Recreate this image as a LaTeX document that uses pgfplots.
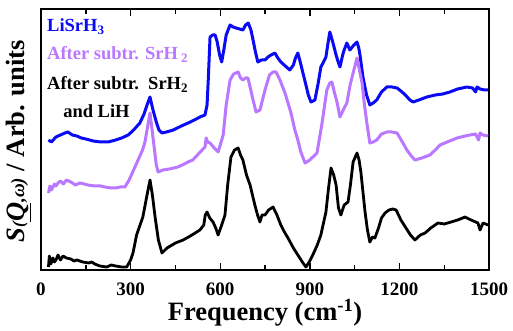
\documentclass[border=0pt]{standalone}
\usepackage{pgfplots}
\pgfplotsset{compat=1.18}
\usepackage{fontspec}
\setmainfont{Liberation Serif}
\definecolor{cblue}{RGB}{10,10,245}
\definecolor{cpurp}{RGB}{185,120,255}
\begin{document}
\begin{tikzpicture}
\path[use as bounding box] (-41pt,-61pt) rectangle (472pt,270pt);
\begin{axis}[
  scale only axis, width=448pt, height=261pt,
  xmin=0, xmax=1500, ymin=0, ymax=261,
  xtick={0,300,...,1500}, minor xtick={150,450,...,1350},
  ytick=\empty,
  tick align=inside, major tick length=7pt, minor tick length=5pt,
  tick style={line width=1.4pt, black},
  axis line style={line width=1.6pt},
  /pgf/number format/assume math mode=true,
  /pgf/number format/1000 sep={},
  xticklabel style={font=\fontsize{19}{19}\selectfont\bfseries, yshift=-9pt},
  xlabel={\bfseries Frequency (cm\textsuperscript{-1})},
  xlabel style={font=\fontsize{26.5}{26.5}\selectfont, at={(axis description cs:0.5,-0.165)}, anchor=center},
  ylabel={\bfseries\itshape S\/{\fontsize{17}{17}\selectfont(}\underline{Q}{\fontsize{19}{19}\selectfont,ω)}\upshape\ / Arb. units},
  ylabel style={font=\fontsize{26.5}{26.5}\selectfont, at={(axis description cs:-0.051,0.494)}, anchor=center},
]
% LiSrH3
\addplot[cblue, line width=3pt, line join=round] coordinates {
(25,130)(35,128)(50,133)(65,135)(80,137)(90,138)(105,135)(120,134)(135,132)(150,131)(175,129)(200,128)(225,128)(250,130)(270,132)(292,135)(310,140)(331,147)(345,156)(355,165)(365,173)(375,160)(387,147)(395,140)(405,137)(420,138)(443,140)(470,144)(500,148)(520,151)(532,153)(549,155)(556,165)(560,190)(566,233)(575,235)(583,235)(590,228)(598,215)(605,208)(612,220)(620,235)(633,245)(643,243)(653,242)(665,241)(676,240)(685,245)(694,247)(703,240)(710,230)(718,218)(726,208)(738,210)(750,210)(760,213)(770,215)(783,217)(793,212)(803,208)(818,204)(833,200)(845,205)(852,212)(860,217)(868,208)(877,197)(887,185)(895,175)(904,168)(917,170)(927,185)(937,203)(946,208)(954,213)(960,225)(967,238)(975,230)(982,222)(988,215)(995,208)(1001,203)(1010,215)(1015,220)(1024,227)(1034,220)(1045,224)(1058,228)(1064,222)(1068,215)(1078,193)(1090,175)(1101,165)(1112,167)(1124,170)(1140,178)(1158,183)(1175,183)(1192,182)(1205,179)(1220,175)(1235,170)(1246,168)(1265,170)(1292,173)(1320,175)(1345,176)(1369,178)(1395,181)(1426,183)(1445,182)(1455,178)(1460,183)(1470,181)(1485,180)(1497,180)
};
% After subtr. SrH2
\addplot[cpurp, line width=3pt, line join=round] coordinates {
(25,77)(30,84)(35,80)(40,83)(45,86)(50,84)(57,87)(65,89)(75,86)(85,90)(100,88)(115,85)(130,87)(145,86)(157,85)(180,84)(200,84)(214,83)(235,82)(250,82)(265,83)(281,83)(295,90)(310,100)(325,110)(340,120)(348,128)(358,145)(365,157)(372,140)(380,120)(386,105)(392,98)(408,100)(430,101)(458,103)(480,106)(492,108)(508,110)(530,117)(549,123)(553,132)(558,128)(566,127)(580,122)(593,118)(600,125)(610,135)(620,165)(633,190)(645,196)(660,198)(668,192)(676,190)(685,192)(693,192)(700,183)(710,170)(720,158)(733,160)(750,180)(765,195)(777,198)(787,198)(800,190)(817,177)(837,157)(850,140)(860,130)(870,118)(884,107)(900,110)(924,117)(940,145)(957,180)(967,187)(974,188)(982,178)(991,168)(1001,153)(1012,160)(1024,167)(1035,185)(1045,197)(1058,212)(1066,200)(1075,187)(1083,165)(1091,147)(1101,127)(1112,128)(1124,130)(1140,136)(1158,138)(1175,138)(1192,137)(1210,128)(1225,120)(1240,114)(1252,110)(1275,112)(1302,115)(1320,120)(1336,125)(1360,128)(1393,132)(1420,134)(1436,135)(1455,136)(1465,130)(1470,137)(1480,135)(1497,134)
};
% After subtr. SrH2 and LiH
\addplot[black, line width=2.8pt, line join=round] coordinates {
(25,3)(28,14)(33,6)(40,12)(45,8)(50,10)(57,15)(65,10)(74,14)(85,12)(100,11)(110,9)(120,10)(140,8)(160,7)(170,8)(180,6)(197,4)(220,3)(235,5)(250,4)(270,3)(287,3)(300,10)(308,17)(320,35)(341,53)(355,75)(365,90)(373,75)(382,53)(393,30)(405,17)(422,22)(450,27)(476,30)(500,34)(532,40)(545,45)(550,55)(556,58)(565,52)(576,48)(585,42)(593,35)(605,45)(616,55)(625,85)(636,113)(648,120)(660,122)(668,115)(676,110)(688,95)(700,85)(716,65)(725,55)(733,48)(740,55)(750,55)(762,60)(777,63)(790,55)(803,45)(815,38)(827,32)(845,22)(860,15)(875,8)(887,3)(898,8)(910,15)(925,25)(937,35)(954,58)(962,80)(971,102)(980,95)(988,85)(996,62)(1004,55)(1015,65)(1028,68)(1036,85)(1045,108)(1058,117)(1065,110)(1071,98)(1085,58)(1093,40)(1101,28)(1110,33)(1118,32)(1130,42)(1140,52)(1152,57)(1165,60)(1178,61)(1189,60)(1205,50)(1222,42)(1237,35)(1252,30)(1270,35)(1286,37)(1305,42)(1329,47)(1350,46)(1373,48)(1395,50)(1420,53)(1440,50)(1463,47)(1470,40)(1480,47)(1497,45)
};
\node[anchor=base west, text=cblue, font=\fontsize{18.5}{18.5}\selectfont\bfseries, inner sep=0pt] at (axis cs:20,238) {LiSrH\textsubscript{3}};
\node[anchor=base west, text=cpurp, font=\fontsize{18.5}{18.5}\selectfont\bfseries, inner sep=0pt] at (axis cs:20,210) {After subtr. SrH\,\textsubscript{2}};
\node[anchor=base west, text=black, font=\fontsize{18.5}{18.5}\selectfont\bfseries, inner sep=0pt] at (axis cs:20,180) {After subtr.\ \ SrH\textsubscript{2}};
\node[anchor=base west, text=black, font=\fontsize{18.5}{18.5}\selectfont\bfseries, inner sep=0pt] at (axis cs:74,152) {and LiH};
\end{axis}
\end{tikzpicture}
\end{document}
